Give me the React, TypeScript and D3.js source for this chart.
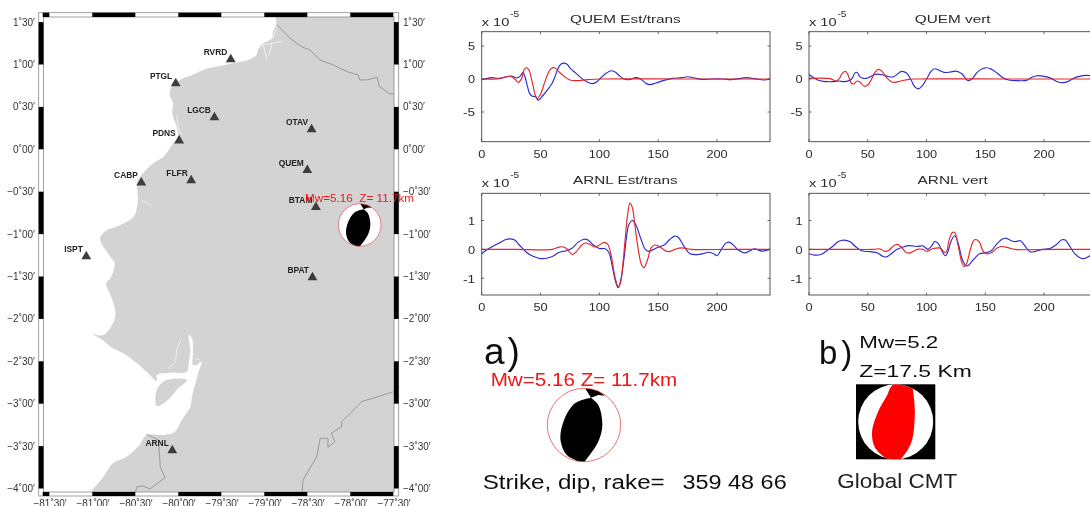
import React from "react";
import * as d3 from "d3";

type P = [number, number];

// ---------- map data (lon, lat in degrees) ----------
const lonTicks = [-81.5, -81, -80.5, -80, -79.5, -79, -78.5, -78, -77.5];
const latTicks = [1.5, 1, 0.5, 0, -0.5, -1, -1.5, -2, -2.5, -3, -3.5, -4];
const lonTickLabels = ["−81˚30′", "−81˚00′", "−80˚30′", "−80˚00′", "−79˚30′", "−79˚00′", "−78˚30′", "−78˚00′", "−77˚30′"];
const latTickLabels = ["1˚30′", "1˚00′", "0˚30′", "0˚00′", "−0˚30′", "−1˚00′", "−1˚30′", "−2˚00′", "−2˚30′", "−3˚00′", "−3˚30′", "−4˚00′"];

const landOutline: P[] = [
  [-78.86, 1.6], [-78.86, 1.486], [-78.9, 1.388], [-78.91, 1.309], [-79.01, 1.25], [-79.07, 1.191], [-79.09, 1.112],
  [-79.19, 1.053], [-79.36, 1.014], [-79.55, 0.975], [-79.71, 0.936], [-79.84, 0.877], [-79.98, 0.818], [-80.08, 0.731],
  [-80.1, 0.641], [-80.06, 0.542], [-80.07, 0.425], [-80.02, 0.267], [-80.0, 0.149], [-80.06, 0.071], [-80.17, -0.086],
  [-80.29, -0.165], [-80.41, -0.283], [-80.48, -0.381], [-80.47, -0.558], [-80.48, -0.676], [-80.52, -0.794],
  [-80.72, -0.912], [-80.83, -0.951], [-80.91, -1.05], [-80.79, -1.266], [-80.74, -1.345], [-80.79, -1.522],
  [-80.84, -1.581], [-80.78, -1.738], [-80.73, -1.934], [-80.76, -2.052], [-80.87, -2.19], [-81.0, -2.182],
  [-80.91, -2.229], [-80.79, -2.327], [-80.64, -2.406], [-80.48, -2.524], [-80.37, -2.622], [-80.25, -2.732],
  [-80.25, -2.662], [-80.1, -2.634], [-79.9, -2.622], [-79.88, -2.524], [-79.86, -2.367], [-79.88, -2.19],
  [-79.84, -2.229], [-79.83, -2.406], [-79.83, -2.544], [-79.79, -2.544], [-79.73, -2.504], [-79.77, -2.642],
  [-79.79, -2.721], [-79.84, -2.917], [-79.86, -3.035], [-79.96, -3.192], [-80.04, -3.33], [-80.17, -3.369],
  [-80.37, -3.369], [-80.45, -3.487], [-80.6, -3.625], [-80.76, -3.703], [-80.87, -3.86], [-81.0, -4.018],
  [-81.05, -4.08], [-77.4, -4.08], [-77.4, 1.6],
];
const punaIsland: P[] = [
  [-80.25, -2.838], [-80.14, -2.721], [-79.9, -2.721], [-80.02, -2.838], [-80.12, -2.956], [-80.25, -3.027],
];
const whiteChannels: P[][] = [
  [[-79.96, -2.229], [-80.02, -2.367], [-80.03, -2.504], [-80.12, -2.583]],
  [[-79.75, -2.485], [-79.81, -2.47]],
  [[-79.07, 1.191], [-79.01, 1.23], [-78.8, 1.27]],
  [[-79.01, 1.23], [-78.97, 1.053]],
  [[-78.91, 1.25], [-78.95, 1.093]],
  [[-78.86, 1.447], [-78.9, 1.309]],
  [[-80.02, 0.405], [-80.0, 0.248], [-79.96, 0.169]],
  [[-80.43, -0.597], [-80.31, -0.668]],
];
const borders: P[][] = [
  [[-78.85, 1.466], [-78.7, 1.309], [-78.57, 1.211], [-78.47, 1.171], [-78.35, 1.053], [-78.2, 0.995], [-78.04, 0.916],
   [-77.91, 0.877], [-77.89, 0.818], [-77.81, 0.818], [-77.69, 0.849], [-77.66, 0.739], [-77.54, 0.653], [-77.48, 0.66]],
  [[-77.48, -2.854], [-77.87, -2.976], [-78.0, -3.114], [-78.1, -3.212], [-78.1, -3.271], [-78.22, -3.349], [-78.18, -3.448],
   [-78.26, -3.515], [-78.26, -3.408], [-78.35, -3.408], [-78.39, -3.625], [-78.55, -3.9], [-78.56, -4.045]],
  [[-80.37, -3.361], [-80.23, -3.428], [-80.21, -3.743], [-80.155, -3.872], [-80.33, -4.006], [-80.41, -3.97], [-80.48, -3.978], [-80.5, -4.045]],
];
const stationNames = ["RVRD", "PTGL", "LGCB", "OTAV", "PDNS", "QUEM", "FLFR", "CABP", "BTAM", "ISPT", "BPAT", "ARNL"];
const stationLons = [-79.39, -80.03, -79.58, -78.45, -79.99, -78.5, -79.85, -80.43, -78.4, -81.07, -78.44, -80.07];
const stationLats = [1.077, 0.794, 0.393, 0.251, 0.121, -0.229, -0.35, -0.377, -0.665, -1.246, -1.494, -3.534];

// ---------- beach-ball shapes (unit circle; outlines may overrun and are clipped to it) ----------
const ballLens: P[] = [[0.19, -0.745], [0.39, -0.545], [0.5, 0], [0.39, 0.45], [0.03, 0.98], [-0.08, 1.1], [-0.2, 0.98], [-0.47, 0.82], [-0.64, 0.41], [-0.56, -0.09], [-0.25, -0.59], [0.19, -0.745]];
const ballCap: P[] = [[0.03, -1.0], [0.3, -1.0], [0.57, -0.8], [0.39, -0.82], [0.19, -0.745], [0.03, -1.0]];
const cmtLens: P[] = [[0.44, -0.98], [0.46, -0.85], [0.51, -0.27], [0.42, 0.54], [0.15, 0.98], [0, 1.1], [-0.25, 0.98], [-0.56, 0.67], [-0.63, 0.27], [-0.47, -0.27], [-0.23, -0.71], [-0.12, -0.94], [0.1, -1.1], [0.44, -0.98]];

// ---------- waveforms (time, amplitude) ----------
const xTicks = [0, 50, 100, 150, 200];
const yTicksWide = [5, 0, -5];
const yTicksNarrow = [1, 0, -1];

const quemTransBlue: P[] = [[0,-0.1],[5,0.1],[8,0.2],[15,0.1],[20,0.3],[25,0.45],[30,0.15],[33,0.5],[35,1.0],[37,0.2],[39,-1.2],[41,-2.3],[43,-2.6],[46,-2.7],[48,-3.2],[52,-2.5],[56,-1.6],[60,-0.6],[63,0.7],[66,2.0],[69,2.4],[72,2.3],[76,1.5],[80,0.9],[85,0.1],[90,-0.5],[94,-0.7],[98,-0.4],[102,0.3],[106,0.9],[110,1.25],[113,1.1],[117,0.5],[121,0.0],[125,-0.1],[131,0.2],[135,0],[140,-0.7],[143,-0.85],[148,-0.6],[155,-0.2],[162,0.1],[170,0.2],[175,0.35],[180,0.2],[187,-0.05],[195,0],[205,0],[212,-0.1],[220,0.1],[225,0.2],[232,0.05],[240,-0.15],[245,0]];
const quemTransRed: P[] = [[0,0],[15,0.05],[20,0.3],[25,0.4],[28,0],[31,-0.5],[34,0.1],[36,1.4],[38,1.7],[40,1.4],[43,-0.5],[45,-2.1],[47,-3.0],[50,-2.3],[53,-0.8],[56,0.7],[59,1.6],[62,1.7],[65,1.2],[70,0.4],[75,-0.15],[80,-0.25],[90,-0.1],[100,0],[170,0],[245,0]];
const quemVertBlue: P[] = [[0,0.7],[3,0.3],[8,-0.2],[12,-0.35],[20,-0.4],[25,-0.3],[30,-0.4],[35,-0.2],[37,0.2],[39,0.9],[41,1.0],[43,0.4],[46,0.1],[50,0.15],[55,0.6],[58,0.75],[62,0.65],[68,0.35],[72,0.35],[77,1.0],[79,1.15],[83,0.9],[87,-0.2],[90,-1.2],[93,-1.5],[96,-1.1],[100,0],[104,1.2],[107,1.55],[111,1.3],[115,1.0],[120,1.05],[125,1.2],[130,0.8],[134,-0.1],[136,-0.25],[139,0.05],[143,1.0],[148,1.6],[151,1.7],[155,1.5],[160,0.9],[165,0.2],[170,-0.15],[178,-0.25],[185,-0.2],[190,0.3],[194,0.5],[200,0.4],[206,0.1],[212,-0.45],[216,-0.55],[220,-0.4],[225,0.1],[230,0.4],[236,0.55],[245,0.4]];
const quemVertRed: P[] = [[0,0.1],[18,0.05],[23,-0.3],[26,0.1],[28,0.8],[31,1.15],[33,0.7],[36,-0.6],[38,-0.75],[41,-0.3],[43,-0.4],[47,-1.1],[50,-0.9],[53,-0.1],[56,1.0],[59,1.45],[62,1.2],[66,0.2],[70,-0.4],[73,-0.5],[78,-0.3],[85,-0.05],[90,0],[170,0],[245,0]];
const arnlTransBlue: P[] = [[0,-0.15],[5,0],[10,0.12],[15,0.22],[20,0.33],[24,0.36],[28,0.32],[32,0.15],[38,-0.1],[44,-0.25],[50,-0.32],[55,-0.31],[60,-0.25],[66,-0.1],[72,-0.05],[77,0.05],[82,0.25],[87,0.35],[90,0.33],[95,0.15],[100,0.03],[105,0.02],[108,-0.1],[111,-0.6],[114,-1.15],[116,-1.33],[118,-1.1],[121,-0.3],[123,0.4],[125,0.85],[128,1.0],[131,0.85],[135,0.4],[139,0],[142,-0.07],[146,0],[150,0.07],[155,0.15],[160,0.35],[164,0.46],[167,0.42],[172,0.1],[177,-0.15],[183,-0.18],[188,-0.15],[193,-0.1],[197,-0.15],[200,-0.22],[203,-0.05],[207,0.2],[210,0.25],[213,0.18],[218,-0.02],[224,-0.12],[228,-0.05],[232,0.02],[238,-0.06],[245,0]];
const arnlTransRed: P[] = [[0,0],[30,0],[60,0],[65,0.07],[68,0.09],[72,0.03],[77,-0.18],[80,-0.1],[85,0.15],[88,0.22],[93,0.15],[96,0.08],[100,0.15],[104,0.24],[107,0.18],[110,-0.2],[113,-0.9],[116,-1.3],[118,-1.15],[120,-0.5],[122,0.4],[124,1.2],[126,1.6],[128,1.45],[130,0.9],[133,0],[136,-0.55],[138,-0.63],[141,-0.35],[144,0.05],[147,0.15],[151,0.1],[155,-0.02],[159,-0.08],[164,0.0],[170,0.05],[178,0.0],[210,0],[245,0]];
const arnlVertBlue: P[] = [[0,-0.15],[5,-0.2],[10,-0.18],[15,-0.05],[20,0.1],[25,0.27],[30,0.32],[35,0.26],[40,0.08],[45,-0.05],[52,-0.08],[58,-0.12],[63,-0.25],[66,-0.26],[70,-0.15],[75,0],[80,0.08],[85,0.13],[92,0.1],[97,0.12],[101,0.0],[104,0.1],[107,0.27],[110,0.2],[113,-0.05],[116,-0.22],[118,-0.1],[121,0.3],[124,0.47],[127,0.2],[130,-0.3],[133,-0.55],[135,-0.57],[140,-0.35],[145,-0.15],[150,-0.12],[155,-0.05],[160,0.2],[165,0.37],[168,0.38],[172,0.3],[176,0.27],[180,0.3],[184,0.1],[188,-0.08],[192,-0.08],[198,0],[205,0.03],[210,0.15],[215,0.33],[218,0.32],[222,0.1],[226,-0.15],[231,-0.3],[234,-0.32],[240,-0.2],[245,-0.1]];
const arnlVertRed: P[] = [[0,0],[30,0],[55,0],[60,0.02],[65,-0.07],[68,-0.03],[72,0.12],[75,0.17],[78,0.1],[83,-0.12],[86,-0.12],[92,0.0],[97,0.0],[100,-0.07],[105,0.02],[112,0.04],[115,-0.1],[117,-0.08],[119,0.3],[122,0.58],[124,0.58],[127,0.1],[130,-0.45],[132,-0.6],[134,-0.5],[137,-0.05],[140,0.3],[142,0.34],[145,0.25],[148,-0.05],[151,-0.15],[155,-0.12],[160,0.05],[164,0.1],[170,0.05],[175,0],[210,0],[245,0]];

const FONT = "'Liberation Sans', Arial, sans-serif";
const INK = "#2b2b2b";

// ---------- map scales ----------
const lonScale = d3.scaleLinear().domain([-81.5, -77.5]).range([49.3, 393.3]);
const latScale = d3.scaleLinear().domain([0, -4]).range([149.3, 488.5]);
const mapLine = d3.line<P>().x((d) => lonScale(d[0])).y((d) => latScale(d[1]));
const coastLine = d3.line<P>().x((d) => lonScale(d[0])).y((d) => latScale(d[1])).curve(d3.curveCatmullRomClosed.alpha(0.5));
const FRAME = { x0: 38.7, x1: 398.7, y0: 12.7, y1: 496, ix0: 43.5, ix1: 394, iy0: 17, iy1: 492 };

function Ball({ id, cx, cy, r, lens, cap, fill, stroke, sw }: { id: string; cx: number; cy: number; r: number; lens: P[]; cap?: P[]; fill: string; stroke: string; sw: number }) {
  const ux = d3.scaleLinear().domain([-1, 1]).range([cx - r, cx + r]);
  const uy = d3.scaleLinear().domain([-1, 1]).range([cy - r, cy + r]);
  const curve = d3.line<P>().x((d) => ux(d[0])).y((d) => uy(d[1])).curve(d3.curveCatmullRom.alpha(0.5));
  const straight = d3.line<P>().x((d) => ux(d[0])).y((d) => uy(d[1]));
  return (
    <g>
      <clipPath id={id}><circle cx={cx} cy={cy} r={r} /></clipPath>
      <circle cx={cx} cy={cy} r={r} fill="#fff" />
      <g clipPath={`url(#${id})`}>
        <path d={curve(lens) + "Z"} fill={fill} />
        {cap && <path d={straight(cap) + "Z"} fill={fill} />}
      </g>
      <circle cx={cx} cy={cy} r={r} fill="none" stroke={stroke} strokeWidth={sw} />
    </g>
  );
}

function MapPanel() {
  const xBands = d3.pairs([42.7, ...lonTicks.map((l) => lonScale(l)), FRAME.ix1]);
  const yBands = d3.pairs(latTicks.map((l) => latScale(l)));
  return (
    <g fontFamily={FONT}>
      <clipPath id="mapClip"><rect x={FRAME.ix0} y={FRAME.iy0} width={FRAME.ix1 - FRAME.ix0} height={FRAME.iy1 - FRAME.iy0} /></clipPath>
      <g clipPath="url(#mapClip)">
        <path d={coastLine(landOutline) ?? ""} fill="#d3d3d3" />
        <path d={coastLine(punaIsland) ?? ""} fill="#d3d3d3" />
        {whiteChannels.map((c, i) => <path key={i} d={mapLine(c) ?? ""} fill="none" stroke="#fff" strokeWidth={0.6} />)}
        {borders.map((b, i) => <path key={i} d={mapLine(b) ?? ""} fill="none" stroke="#808080" strokeWidth={0.7} />)}
      </g>
      <rect x={FRAME.x0} y={FRAME.y0} width={FRAME.x1 - FRAME.x0} height={FRAME.y1 - FRAME.y0} fill="none" stroke="#8a8a8a" strokeWidth={0.8} />
      <rect x={FRAME.ix0} y={FRAME.iy0} width={FRAME.ix1 - FRAME.ix0} height={FRAME.iy1 - FRAME.iy0} fill="none" stroke="#8a8a8a" strokeWidth={0.8} />
      {xBands.map(([a, b], i) => i % 2 === 0 && (
        <g key={i}>
          <rect x={a} y={FRAME.y0} width={b - a} height={FRAME.iy0 - FRAME.y0} fill="#000" />
          <rect x={a} y={FRAME.iy1} width={b - a} height={FRAME.y1 - FRAME.iy1} fill="#000" />
        </g>
      ))}
      {yBands.map(([a, b], i) => i % 2 === 0 && (
        <g key={i}>
          <rect x={FRAME.x0} y={a} width={FRAME.ix0 - FRAME.x0} height={b - a} fill="#000" />
          <rect x={FRAME.ix1} y={a} width={FRAME.x1 - FRAME.ix1} height={b - a} fill="#000" />
        </g>
      ))}
      {latTicks.map((l, i) => (
        <g key={l} fontSize={10} fill="#333">
          <text x={35} y={latScale(l) + 3.5} textAnchor="end">{latTickLabels[i]}</text>
          <text x={403} y={latScale(l) + 3.5}>{latTickLabels[i]}</text>
        </g>
      ))}
      {lonTicks.map((l, i) => (
        <text key={l} x={lonScale(l) + 0.8} y={507} fontSize={10} fill="#333" textAnchor="middle">{lonTickLabels[i]}</text>
      ))}
      {stationNames.map((n, i) => {
        const x = lonScale(stationLons[i]);
        const y = latScale(stationLats[i]);
        return (
          <g key={n}>
            <path d={d3.symbol(d3.symbolTriangle, 42)() ?? ""} transform={`translate(${x},${y + 1.5})`} fill="#3e3e3e" />
            <text x={x - 3.5} y={y - 3} textAnchor="end" fontSize={8.4} fontWeight="bold" fill="#222">{n}</text>
          </g>
        );
      })}
      <Ball id="ballMap" cx={359.7} cy={225} r={21.3} lens={ballLens} cap={ballCap} fill="#000" stroke="#e8363a" sw={0.6} />
      <text x={305} y={201.7} fontSize={11.4} fill="#f01818" textLength={109} lengthAdjust="spacingAndGlyphs" style={{ whiteSpace: "pre" }}>Mw=5.16  Z= 11.7km</text>
    </g>
  );
}

function Wave({ x0, x1, y0, y1, yDomain, yTicks, title, titleWidth, blue, red }: { x0: number; x1: number; y0: number; y1: number; yDomain: [number, number]; yTicks: number[]; title: string; titleWidth: number; blue: P[]; red: P[] }) {
  const sx = d3.scaleLinear().domain([0, 245]).range([x0, x1]);
  const sy = d3.scaleLinear().domain(yDomain).range([y1, y0]);
  const line = d3.line<P>().x((d) => sx(d[0])).y((d) => sy(d[1])).curve(d3.curveCatmullRom.alpha(0.5));
  const id = `clip-${title.replace(/\W/g, "")}`;
  const width = (s: string) => (s.replace("-", "").length * 7.1 + (s.includes("-") ? 5 : 0));
  return (
    <g fontFamily={FONT} fill={INK}>
      <clipPath id={id}><rect x={x0} y={y0} width={x1 - x0} height={y1 - y0} /></clipPath>
      <g clipPath={`url(#${id})`}>
        <path d={line(blue) ?? ""} fill="none" stroke="#2a2ad2" strokeWidth={1.15} />
        <path d={line(red) ?? ""} fill="none" stroke="#e4262c" strokeWidth={1.15} />
      </g>
      <rect x={x0} y={y0} width={x1 - x0} height={y1 - y0} fill="none" stroke="#444" strokeWidth={0.9} />
      {xTicks.map((t) => (
        <g key={t}>
          <line x1={sx(t)} x2={sx(t)} y1={y1} y2={y1 - 2.5} stroke="#444" strokeWidth={0.8} />
          <line x1={sx(t)} x2={sx(t)} y1={y0} y2={y0 + 2.5} stroke="#444" strokeWidth={0.8} />
          <text x={sx(t)} y={y1 + 16.3} fontSize={11.8} textAnchor="middle" textLength={width(String(t))} lengthAdjust="spacingAndGlyphs">{t}</text>
        </g>
      ))}
      {yTicks.map((t) => (
        <g key={t}>
          <line x1={x0} x2={x0 + 2.5} y1={sy(t)} y2={sy(t)} stroke="#444" strokeWidth={0.8} />
          <line x1={x1} x2={x1 - 2.5} y1={sy(t)} y2={sy(t)} stroke="#444" strokeWidth={0.8} />
          <text x={x0 - 6.5} y={sy(t) + 4.3} fontSize={11.8} textAnchor="end" textLength={width(String(t))} lengthAdjust="spacingAndGlyphs">{t}</text>
        </g>
      ))}
      <text x={x0 + 143.7} y={y0 - 9} fontSize={11.5} textAnchor="middle" textLength={titleWidth} lengthAdjust="spacingAndGlyphs">{title}</text>
      <text x={x0} y={y0 - 6} fontSize={11.5} textLength={27.6} lengthAdjust="spacingAndGlyphs">x 10</text>
      <text x={x0 + 28.5} y={y0 - 15} fontSize={8.5} textLength={9} lengthAdjust="spacingAndGlyphs">-5</text>
    </g>
  );
}

export default function App() {
  return (
    <svg width={1090} height={506} viewBox="0 0 1090 506" style={{ position: "absolute", left: 0, top: 0, display: "block", background: "#fff" }}>
      <defs>
        <filter id="soft" x="0" y="0" width="100%" height="100%"><feGaussianBlur stdDeviation="0.45" /></filter>
      </defs>
      <g filter="url(#soft)">
        <rect width={1090} height={506} fill="#fff" />
        <MapPanel />
        <Wave x0={481.7} x1={770} y0={31.7} y1={141.7} yDomain={[-9.5, 7.17]} yTicks={yTicksWide} title="QUEM Est/trans" titleWidth={110.7} blue={quemTransBlue} red={quemTransRed} />
        <Wave x0={809} x1={1097} y0={31.7} y1={141.7} yDomain={[-9.5, 7.17]} yTicks={yTicksWide} title="QUEM vert" titleWidth={75.7} blue={quemVertBlue} red={quemVertRed} />
        <Wave x0={481.7} x1={770} y0={193.3} y1={295} yDomain={[-1.58, 1.94]} yTicks={yTicksNarrow} title="ARNL Est/trans" titleWidth={104.6} blue={arnlTransBlue} red={arnlTransRed} />
        <Wave x0={809} x1={1097} y0={193.3} y1={295} yDomain={[-1.58, 1.94]} yTicks={yTicksNarrow} title="ARNL vert" titleWidth={70.3} blue={arnlVertBlue} red={arnlVertRed} />

        <g fontFamily={FONT} style={{ whiteSpace: "pre" }}>
          <text x={484} y={364} fontSize={37} fill="#111" letterSpacing={3}>a)</text>
          <text x={490.7} y={386} fontSize={18} fill="#f01818" textLength={186.5} lengthAdjust="spacingAndGlyphs">Mw=5.16  Z= 11.7km</text>
          <Ball id="ballA" cx={584} cy={425} r={36.7} lens={ballLens} cap={ballCap} fill="#000" stroke="#e8363a" sw={0.7} />
          <text x={482.7} y={489} fontSize={19.5} fill="#111" textLength={182} lengthAdjust="spacingAndGlyphs">Strike, dip, rake=</text>
          <text x={682.4} y={489} fontSize={19.5} fill="#111" textLength={104.3} lengthAdjust="spacingAndGlyphs">359 48 66</text>

          <text x={819} y={364.3} fontSize={33} fill="#111" letterSpacing={4}>b)</text>
          <text x={859.3} y={347.7} fontSize={16.5} fill="#111" textLength={79} lengthAdjust="spacingAndGlyphs">Mw=5.2</text>
          <text x={859.3} y={376.7} fontSize={16.5} fill="#111" textLength={112.4} lengthAdjust="spacingAndGlyphs">Z=17.5 Km</text>
          <rect x={856} y={384.3} width={79.3} height={75} fill="#000" />
          <Ball id="ballB" cx={895.7} cy={421.8} r={37.5} lens={cmtLens} fill="#ff0000" stroke="none" sw={0} />
          <text x={837.3} y={488.3} fontSize={20.5} fill="#222" textLength={120} lengthAdjust="spacingAndGlyphs">Global CMT</text>
        </g>
      </g>
    </svg>
  );
}
